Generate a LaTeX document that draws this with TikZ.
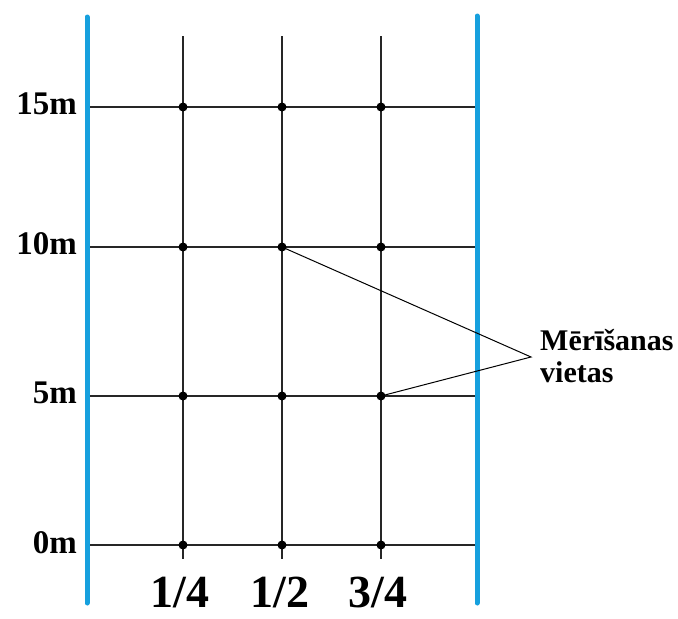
\documentclass[tikz,border=0pt]{standalone}
\usepackage{fontspec}
\setmainfont{Liberation Serif}
\definecolor{laneblue}{RGB}{22,160,222}
\begin{document}
\begin{tikzpicture}[x=1pt,y=-1pt,
  lane/.style={line width=5pt,draw=laneblue,line cap=round},
  gridline/.style={line width=1.3pt,draw=black!85},
  pointer/.style={line width=1pt,draw=black},
  dot/.style={circle,fill=black,inner sep=0pt,minimum size=9pt},
  meter/.style={font=\bfseries\fontsize{33}{36}\selectfont,inner sep=0pt,anchor=base east},
  frac/.style={font=\bfseries\fontsize{46}{50}\selectfont,inner sep=0pt,anchor=base},
  note/.style={font=\bfseries\fontsize{30}{32}\selectfont,inner sep=0pt,anchor=base west}]
\useasboundingbox (0,0) rectangle (678,619);
% lanes
\coordinate (LT) at (87,17);
\coordinate (LB) at (87,603);
\coordinate (RT) at (477,16);
\coordinate (RB) at (477,603);
% vertical grid lines
\foreach \c/\x in {a/183,b/282,c/381}{
  \coordinate (\c top) at (\x,36);
  \coordinate (\c bot) at (\x,559);
  \draw[gridline] (\c top) -- (\c bot);
}
% horizontal grid lines and dots
\foreach \r/\y in {15/107,10/247,5/396,0/545}{
  \coordinate (L\r) at (88,\y);
  \coordinate (R\r) at (476,\y);
  \draw[gridline] (L\r) -- (R\r);
  \node[dot] (a\r) at (183,\y) {};
  \node[dot] (b\r) at (282,\y) {};
  \node[dot] (c\r) at (381,\y) {};
}
\draw[lane] (LT) -- (LB);
\draw[lane] (RT) -- (RB);
% labels
\node[meter] (m15) at (77,114) {15m};
\node[meter] (m10) at (77,254) {10m};
\node[meter] (m5) at (77,403) {5m};
\node[meter] (m0) at (77,553) {0m};
\node[frac] (f1) at (180,607) {1/4};
\node[frac] (f2) at (280,607) {1/2};
\node[frac] (f3) at (378,607) {3/4};
\node[note] (n1) at (540,350) {Mērīšanas};
\node[note] (n2) at (540,382) {vietas};
\coordinate (apex) at (531,357);
\draw[pointer] (b10.center) -- (apex) -- (c5.center);
\end{tikzpicture}
\end{document}
